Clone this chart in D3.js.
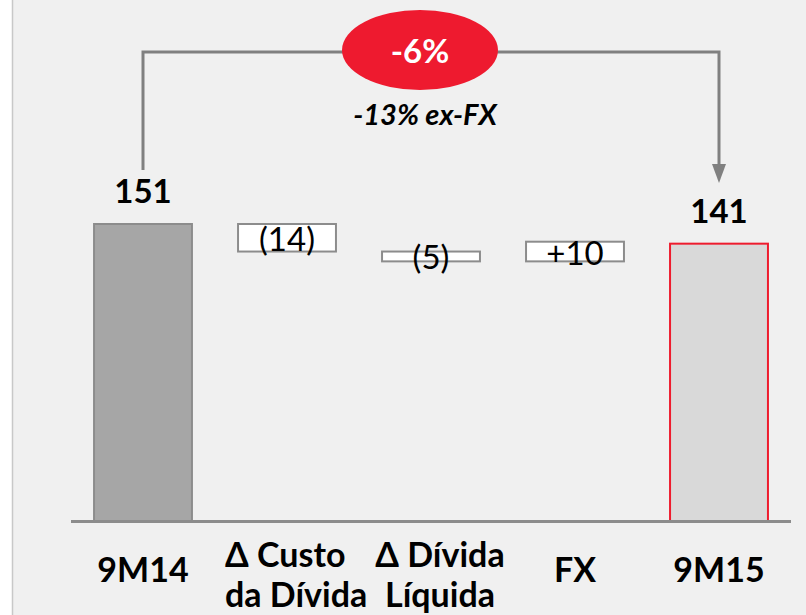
<!DOCTYPE html>
<html>
<head>
<meta charset="utf-8">
<script src="https://cdn.jsdelivr.net/npm/d3@7"></script>
<style>
  html, body { margin: 0; padding: 0; background: #ffffff; }
  svg { display: block; }
</style>
</head>
<body>
<svg id="chart" width="806" height="615"></svg>
<script>
// Waterfall: financial result bridge 9M14 -> 9M15
const categories = ["9M14", "Δ Custo\nda Dívida", "Δ Dívida\nLíquida", "FX", "9M15"];
const kinds = ["total", "delta", "delta", "delta", "total"];
const values = [151, -14, -5, 10, 141];
const valueLabels = ["151", "(14)", "(5)", "+10", "141"];
const changeLabel = "-6%";
const changeNote = "-13% ex-FX";

const W = 806, H = 615;
const svg = d3.select("#chart");
const FONT = "Lato, 'Open Sans', sans-serif";

// panel background with a thin left border
svg.append("rect").attr("x", 0).attr("y", 0).attr("width", W).attr("height", H).attr("fill", "#ffffff");
svg.append("rect").attr("x", 12).attr("y", 0).attr("width", W - 12).attr("height", H).attr("fill", "#f0f0f0");
svg.append("line").attr("x1", 12.5).attr("x2", 12.5).attr("y1", 0).attr("y2", H)
  .attr("stroke", "#c8c8c8").attr("stroke-width", 1.5);

const x = d3.scaleBand().domain(categories).range([71, 791]).paddingInner(0.32).paddingOuter(0.16);
const y = d3.scaleLinear().domain([0, 151]).range([521, 224]);

// running start/end of each step
let run = 0;
const steps = categories.map((c, i) => {
  let y0, y1;
  if (kinds[i] === "total") { y0 = 0; y1 = values[i]; run = values[i]; }
  else { y0 = run; y1 = run + values[i]; run = y1; }
  return { cat: c, kind: kinds[i], v: values[i], lo: Math.min(y0, y1), hi: Math.max(y0, y1), label: valueLabels[i], i };
});

const g = svg.append("g");

// bars
g.selectAll("rect.bar").data(steps).enter().append("rect")
  .attr("class", "bar")
  .attr("x", d => x(d.cat))
  .attr("width", x.bandwidth())
  .attr("y", d => y(d.hi))
  .attr("height", d => y(d.lo) - y(d.hi))
  .attr("fill", d => d.kind === "delta" ? "#ffffff" : (d.i === 0 ? "#a6a6a6" : "#d9d9d9"))
  .attr("stroke", d => d.i === categories.length - 1 ? "#ee1c2e" : "#8c8c8c")
  .attr("stroke-width", 2);

// baseline
svg.append("line")
  .attr("x1", 71).attr("x2", 791)
  .attr("y1", y(0) + 0.5).attr("y2", y(0) + 0.5)
  .attr("stroke", "#8c8c8c").attr("stroke-width", 3);

// value labels
g.selectAll("text.val").data(steps).enter().append("text")
  .attr("class", "val")
  .attr("x", d => x(d.cat) + x.bandwidth() / 2)
  .attr("y", d => d.kind === "total" ? y(d.hi) - 21 : (y(d.hi) + y(d.lo)) / 2 + 13)
  .attr("text-anchor", "middle")
  .attr("font-family", FONT)
  .attr("font-weight", d => d.kind === "total" ? 700 : 400)
  .attr("font-size", 33)
  .attr("fill", "#000")
  .text(d => d.label);

// category labels; two-line labels are set as a block under their band
const axisG = svg.append("g");
steps.forEach(d => {
  const lines = d.cat.split("\n");
  const cx = x(d.cat) + x.bandwidth() / 2;
  const t = axisG.append("text")
    .attr("font-family", FONT)
    .attr("font-weight", 700)
    .attr("font-size", 34)
    .attr("fill", "#000");
  if (lines.length === 1) {
    t.attr("x", cx).attr("y", 582).attr("text-anchor", "middle").text(lines[0]);
  } else if (d.i === 1) {
    lines.forEach((ln, k) => {
      t.append("tspan").attr("x", x(d.cat) - 13).attr("y", 567 + k * 40).text(ln);
    });
  } else {
    t.attr("text-anchor", "middle");
    lines.forEach((ln, k) => {
      t.append("tspan").attr("x", cx + 9).attr("y", 567 + k * 40).text(ln);
    });
  }
});

// bracket from first to last total with arrow
const xa = x(categories[0]) + x.bandwidth() / 2;
const xb = x(categories[4]) + x.bandwidth() / 2;
const yTop = 52;
svg.append("path")
  .attr("d", `M${xa},170 L${xa},${yTop} L${xb},${yTop} L${xb},166`)
  .attr("fill", "none").attr("stroke", "#808080").attr("stroke-width", 3);
svg.append("path")
  .attr("d", `M${xb - 7},164 L${xb + 7},164 L${xb},183 Z`)
  .attr("fill", "#808080");

// change badge
svg.append("ellipse")
  .attr("cx", 420).attr("cy", 50).attr("rx", 78).attr("ry", 40)
  .attr("fill", "#ee1a2f");
svg.append("text")
  .attr("x", 420).attr("y", 63)
  .attr("text-anchor", "middle")
  .attr("font-family", FONT).attr("font-weight", 700).attr("font-size", 33)
  .attr("fill", "#ffffff")
  .text(changeLabel);
svg.append("text")
  .attr("x", 425).attr("y", 125)
  .attr("text-anchor", "middle")
  .attr("font-family", FONT).attr("font-weight", 700).attr("font-style", "italic").attr("font-size", 29)
  .attr("fill", "#000")
  .text(changeNote);
</script>
</body>
</html>
